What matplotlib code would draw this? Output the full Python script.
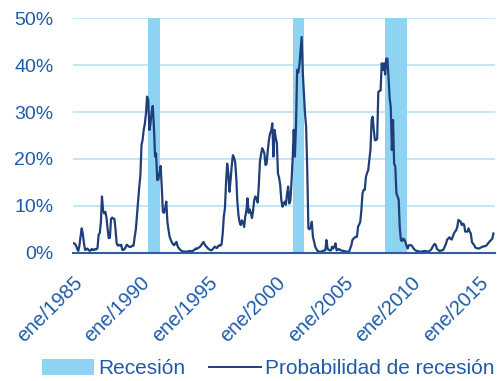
import numpy as np
import pandas as pd
import matplotlib
matplotlib.use("Agg")
import matplotlib.pyplot as plt
import matplotlib.dates as mdates
import matplotlib.transforms as mtransforms
from matplotlib.patches import Patch
from matplotlib.lines import Line2D

# --- datos: probabilidad mensual de recesión (%) desde ene/1985 ---
prob_1985_1994 = [
    2.1, 2.0, 1.9, 1.5, 0.8, 0.4, 1.5, 3.5, 5.2, 4.0, 2.0, 0.6,      # 1985
    0.7, 0.9, 0.6, 0.4, 0.5, 0.8, 0.6, 0.6, 0.8, 0.7, 1.0, 3.8,      # 1986
    4.2, 6.5, 12.0, 9.0, 8.4, 8.7, 7.5, 5.0, 3.1, 3.2, 7.2, 7.5,     # 1987
    7.3, 7.2, 5.0, 2.0, 1.5, 1.7, 1.5, 1.7, 0.6, 0.6, 0.8, 1.2,      # 1988
    1.7, 1.5, 1.3, 1.2, 1.3, 1.5, 1.5, 3.4, 5.0, 8.0, 10.8, 14.0,    # 1989
    16.5, 23.0, 24.0, 26.2, 27.5, 29.7, 33.3, 32.5, 26.2, 27.6, 30.0, 31.3,  # 1990
    27.0, 20.5, 21.2, 15.5, 15.6, 17.0, 18.5, 14.0, 8.7, 8.5, 9.5, 10.9,     # 1991
    6.5, 4.8, 3.4, 2.7, 2.2, 1.8, 1.6, 2.0, 2.3, 1.4, 1.0, 0.7,      # 1992
    0.5, 0.3, 0.2, 0.3, 0.2, 0.2, 0.3, 0.2, 0.4, 0.3, 0.3, 0.5,      # 1993
    0.6, 0.9, 0.8, 1.0, 1.1, 1.3, 1.6, 2.0, 2.3, 1.8, 1.4, 1.2,      # 1994
]
prob_1995_2004 = [
    0.9, 0.7, 0.6, 0.5, 0.7, 1.0, 1.3, 1.1, 1.0, 1.4, 1.6, 1.5,      # 1995
    1.8, 4.1, 7.7, 9.5, 15.0, 19.0, 17.0, 13.0, 15.6, 18.5, 20.8, 20.3,  # 1996
    19.4, 16.0, 11.0, 8.0, 6.5, 5.9, 6.9, 6.5, 5.5, 7.7, 9.0, 11.6,  # 1997
    8.5, 9.2, 8.5, 7.4, 9.0, 11.3, 12.0, 11.5, 10.7, 14.2, 19.4, 21.0,   # 1998
    22.3, 21.8, 21.2, 18.7, 19.0, 21.8, 24.0, 25.4, 26.0, 27.6, 20.5, 26.2,  # 1999
    24.5, 23.4, 16.9, 16.0, 14.5, 11.2, 9.8, 10.5, 10.9, 10.2, 12.5, 14.1,   # 2000
    10.5, 11.2, 15.0, 19.8, 26.2, 20.5, 26.9, 39.0, 38.4, 40.0, 43.2, 46.0,  # 2001
    38.4, 34.0, 29.7, 26.9, 17.6, 5.2, 5.0, 5.4, 6.6, 3.4, 2.4, 1.3,     # 2002
    0.8, 0.4, 0.3, 0.2, 0.2, 0.3, 0.4, 0.5, 0.5, 2.7, 0.9, 0.6,      # 2003
    0.5, 0.5, 1.3, 0.9, 1.2, 2.0, 0.5, 0.6, 0.8, 0.6, 0.5, 0.4,      # 2004
]
prob_2005_2016 = [
    0.4, 0.3, 0.3, 0.2, 0.2, 0.2, 0.9, 1.5, 2.7, 3.0, 3.2, 3.4,      # 2005
    3.4, 5.6, 6.0, 6.6, 9.1, 12.7, 13.4, 13.4, 16.2, 17.0, 17.6, 19.8,   # 2006
    22.0, 28.3, 29.0, 26.2, 24.0, 24.0, 24.3, 34.3, 34.5, 34.6, 40.4, 39.0,  # 2007
    40.4, 38.0, 41.4, 41.4, 37.6, 33.0, 31.1, 21.9, 28.3, 19.0, 18.4, 12.7,  # 2008
    12.0, 11.3, 5.5, 2.7, 2.5, 3.0, 2.8, 2.3, 1.5, 0.9, 1.6, 1.6,    # 2009
    1.6, 1.4, 1.0, 0.7, 0.5, 0.4, 0.3, 0.3, 0.2, 0.2, 0.3, 0.3,      # 2010
    0.4, 0.3, 0.3, 0.2, 0.3, 0.5, 0.7, 1.2, 1.6, 1.9, 1.6, 0.8,      # 2011
    0.6, 0.4, 0.4, 0.5, 0.5, 0.8, 1.4, 1.9, 2.8, 3.0, 3.3, 3.0,      # 2012
    2.8, 3.5, 4.1, 4.5, 4.8, 5.5, 7.0, 6.8, 6.6, 5.9, 6.2, 6.0,      # 2013
    4.5, 4.5, 4.5, 5.2, 4.5, 4.1, 2.3, 1.9, 1.6, 1.1, 1.0, 0.9,      # 2014
    0.9, 1.0, 1.1, 1.3, 1.3, 1.4, 1.4, 1.6, 1.9, 2.2, 2.5, 2.7,      # 2015
    3.0, 4.1,                                                        # 2016
]
prob = prob_1985_1994 + prob_1995_2004 + prob_2005_2016
fechas = pd.date_range("1985-01-01", periods=len(prob), freq="MS")

# periodos sombreados de recesión
rec_inicio = ["1990-08-01", "2001-04-15", "2008-01-15"]
rec_fin = ["1991-06-10", "2002-02-15", "2009-09-20"]

anios_ticks = [1985, 1990, 1995, 2000, 2005, 2010, 2015]
y_ticks = [0, 10, 20, 30, 40, 50]

# --- estilo ---
plt.rcParams['font.family'] = ['Liberation Sans', 'DejaVu Sans']
azul_texto = '#1F5BA8'
azul_linea = '#1F3F7A'
azul_banda = '#8ED3F2'
azul_grid = '#C2E7F7'

fig = plt.figure(figsize=(4.97, 3.81), dpi=100)
ax = fig.add_axes([0.1463, 0.3367, 0.8497, 0.6153])

for a, b in zip(rec_inicio, rec_fin):
    ax.axvspan(pd.Timestamp(a), pd.Timestamp(b), color=azul_banda, lw=0, zorder=1)

ax.plot(fechas, prob, color=azul_linea, lw=1.6, zorder=3)

ax.set_ylim(0, 50)
ax.set_xlim(pd.Timestamp("1985-01-01"), pd.Timestamp("2016-03-15"))
ax.set_yticks(y_ticks)
ax.set_yticklabels([f"{v}%" for v in y_ticks])
ax.yaxis.grid(True, color=azul_grid, lw=1.4, zorder=0)
ax.set_axisbelow(True)

ax.set_xticks([pd.Timestamp(f"{y}-01-01") for y in anios_ticks])
ax.set_xticklabels([f"ene/{y}" for y in anios_ticks])

for s in ['top', 'right', 'left']:
    ax.spines[s].set_visible(False)
ax.spines['bottom'].set_color('#2B5EA7')
ax.spines['bottom'].set_linewidth(1.5)
ax.spines['bottom'].set_zorder(4)

ax.tick_params(axis='y', length=0, pad=14, labelsize=14, labelcolor=azul_texto)
ax.tick_params(axis='x', length=0, pad=0, labelsize=14.5, labelcolor=azul_texto)

desplaz = mtransforms.ScaledTranslation(0 / 100, -20 / 100, fig.dpi_scale_trans)
for lab in ax.get_xticklabels():
    lab.set_rotation(45)
    lab.set_ha('right')
    lab.set_va('top')
    lab.set_rotation_mode('anchor')
    lab.set_transform(lab.get_transform() + desplaz)

handles = [Patch(facecolor=azul_banda, edgecolor='none'),
           Line2D([0], [0], color=azul_linea, lw=1.4)]
fig.legend(handles, ["Recesión", "Probabilidad de recesión"], loc='lower center',
           bbox_to_anchor=(0.54, -0.042), ncol=2, frameon=False, fontsize=15,
           labelcolor=azul_texto, handlelength=2.5, handleheight=0.75,
           handletextpad=0.2, columnspacing=1.1)

fig.savefig("out.png", dpi=100)
